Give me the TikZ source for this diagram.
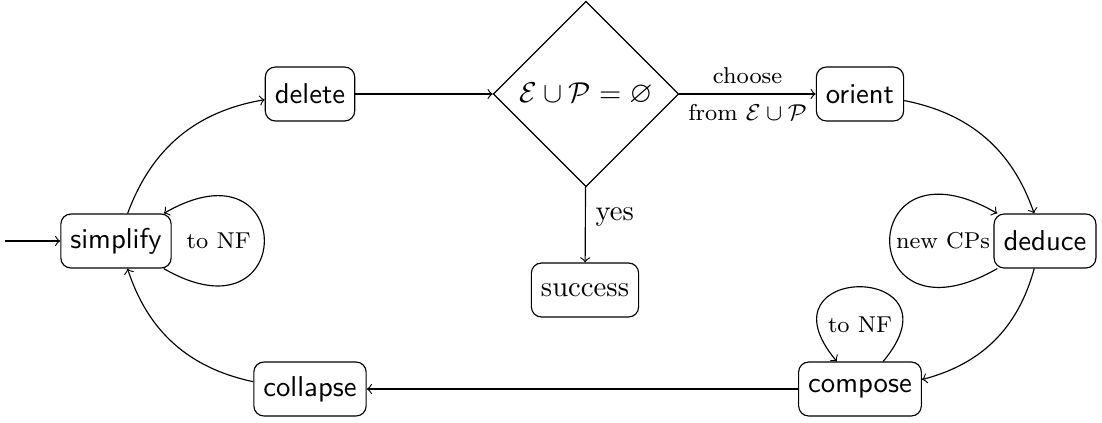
\documentclass[tikz,border=0pt]{standalone}
\usepackage{amssymb}
\usetikzlibrary{shapes.geometric}
\begin{document}
\begin{tikzpicture}[x=0.3484pt,y=-0.3484pt,
  box/.style={draw, rounded corners=3.5pt, minimum height=18.8pt, inner sep=3.33pt, font=\sffamily},
  tbox/.style={box, font=\rmfamily},
  lbl/.style={font=\footnotesize},
  testbox/.style={draw, diamond, aspect=1, minimum size=64.6pt, inner sep=0pt, font=\fontsize{10.4}{12}\selectfont}]
\useasboundingbox (0,0) rectangle (1102,422);
\node[box] (simplify) at (116,241) {simplify};
\node[box] (delete) at (310,94) {delete};
\node[testbox] (test) at (586,94) {$\mathcal{E}\cup\mathcal{P}=\varnothing$};
\node[tbox] (success) at (585,290) {success};
\node[box] (orient) at (860,94) {orient};
\node[box] (deduce) at (1045,241) {deduce};
\node[box] (compose) at (860,389) {compose};
\node[box] (collapse) at (310,389) {collapse};
\coordinate (start) at (5,241);
\draw[->] (start) -- (simplify);
\draw[->] (simplify) to[bend left] (delete);
\draw[->] (delete) -- (test);
\draw[->] (test) -- node[above, lbl] {choose} node[below, lbl] {from $\mathcal{E}\cup\mathcal{P}$} (orient);
\draw[->] (test) -- node[right, pos=0.4] {yes} (success);
\draw[->] (orient) to[bend left] (deduce);
\draw[->] (deduce) to[bend left] (compose);
\draw[->] (compose) -- (collapse);
\draw[->] (collapse) to[bend left] (simplify);
\draw[->] (simplify) to[out=-30, in=30, looseness=7.2] node[left, lbl, inner sep=4.5pt] {to NF} (simplify);
\draw[->] (deduce) to[out=210, in=150, looseness=7.7] node[right, lbl, inner sep=2pt] {new CPs} (deduce);
\draw[->] (compose.50) to[out=50, in=130, looseness=7.2] node[below=7pt, lbl] {to NF} (compose.130);
\end{tikzpicture}
\end{document}
